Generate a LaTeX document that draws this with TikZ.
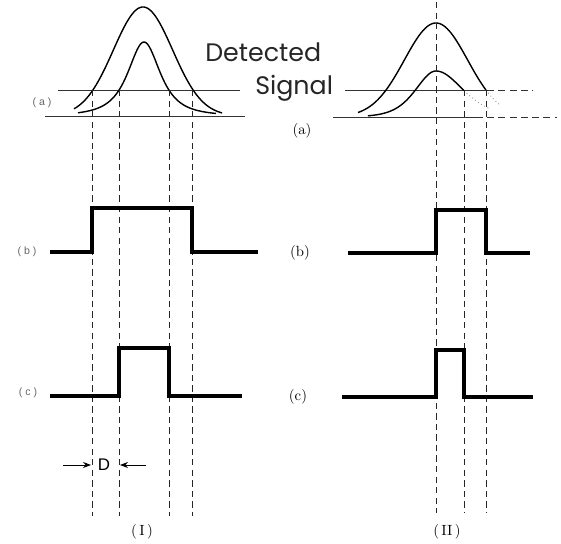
\documentclass[tikz,border=0pt]{standalone}
\usepackage{fontspec}
\newfontfamily\rotulo{Poppins}
\newfontfamily\marca{Liberation Sans}
\usetikzlibrary{arrows.meta}
\tikzset{
  senal/.style={line width=1pt,color=black},
  pulso/.style={line width=2.2pt,color=black,line join=miter},
  umbral/.style={line width=0.7pt,color=black!80},
  umbrald/.style={umbral,dash pattern=on 5pt off 3pt},
  guia/.style={line width=0.7pt,color=black!85,dash pattern=on 4.5pt off 3pt},
  tenue/.style={line width=0.6pt,color=black!45,dotted},
  etiqueta/.style={font=\fontsize{10.5}{12}\selectfont,inner sep=0pt},
  marcap/.style={font=\marca\fontsize{7.5}{9}\selectfont,color=black!60,inner sep=0pt},
  titulo/.style={inner sep=0pt,anchor=base west,color=black!85,font=\rotulo\fontsize{18}{21}\selectfont},
  flecha/.style={-{Stealth[length=2mm]},line width=0.7pt},
}
\begin{document}
\begin{tikzpicture}[x=0.025cm,y=-0.025cm]
  \useasboundingbox (0,0) rectangle (561,544);
  % (I): umbrales y señales
  \draw[umbral] (58,90) -- (240,90);
  \draw[umbral] (45,116) -- (245,116);
  \draw[senal] plot[domain=74:222,samples=90] (\x,{116-109*exp(-((\x-143)^2)/1750)});
  \draw[senal] plot[domain=78:216,samples=90] (\x,{116-74*(1+((\x-144)/24.8)^2)^(-1.5)});
  \foreach \x in {92,119,169,192}
    \draw[guia] (\x,90) -- (\x,516);
  \draw[pulso] (50,252) -- (92,252) -- (92,208) -- (192,208) -- (192,252) -- (258,252);
  \draw[pulso] (50,396) -- (119,396) -- (119,348) -- (169,348) -- (169,396) -- (242,396);
  % (II): umbrales y señales
  \draw[umbral] (345,90) -- (487,90);
  \draw[umbrald] (487,90) -- (533,90);
  \draw[umbral] (333,117) -- (483,117);
  \draw[umbrald] (487,117) -- (557,117);
  \draw[senal] plot[domain=358:486,samples=90] (\x,{117-94*exp(-((\x-436)^2)/2000)});
  \draw[tenue] plot[domain=486:500,samples=10] (\x,{117-94*exp(-((\x-436)^2)/2000)});
  \draw[senal] plot[domain=368:436,samples=60] (\x,{117-46*4/(exp((\x-436)/27)+exp(-(\x-436)/27))^2});
  \draw[senal] plot[domain=436:464,samples=30] (\x,{117-46*4/(exp((\x-436)/36)+exp(-(\x-436)/36))^2});
  \draw[tenue] plot[domain=464:490,samples=15] (\x,{117-46*4/(exp((\x-436)/36)+exp(-(\x-436)/36))^2});
  \draw[guia] (436,2) -- (436,513);
  \foreach \x in {464,486}
    \draw[guia] (\x,90) -- (\x,513);
  \draw[pulso] (348,253) -- (436,253) -- (436,210) -- (486,210) -- (486,253) -- (530,253);
  \draw[pulso] (342,397) -- (436,397) -- (436,350) -- (464,350) -- (464,397) -- (533,397);
  % textos
  \node[titulo] (det) at (205,62) {Detected};
  \node[titulo] (sig) at (255,95) {Signal};
  \node[marcap] (la) at (42,103) {( a )};
  \node[marcap] (lb) at (27,252) {( b )};
  \node[marcap] (lc) at (28,393) {( c )};
  \node[etiqueta] (ra) at (302,131) {(a)};
  \node[etiqueta] (rb) at (300,253) {(b)};
  \node[etiqueta] (rc) at (298,397) {(c)};
  \node[etiqueta] (p1) at (142,532) {(\,I\,)};
  \node[etiqueta] (p2) at (447,532) {(\,II\,)};
  % distancia D
  \node[font=\marca\fontsize{12}{14}\selectfont,inner sep=1pt] (dd) at (104,465) {D};
  \coordinate (d1) at (63,465);
  \coordinate (d2) at (146,465);
  \draw[flecha] (d1) -- (91,465);
  \draw[flecha] (d2) -- (120,465);
\end{tikzpicture}
\end{document}
